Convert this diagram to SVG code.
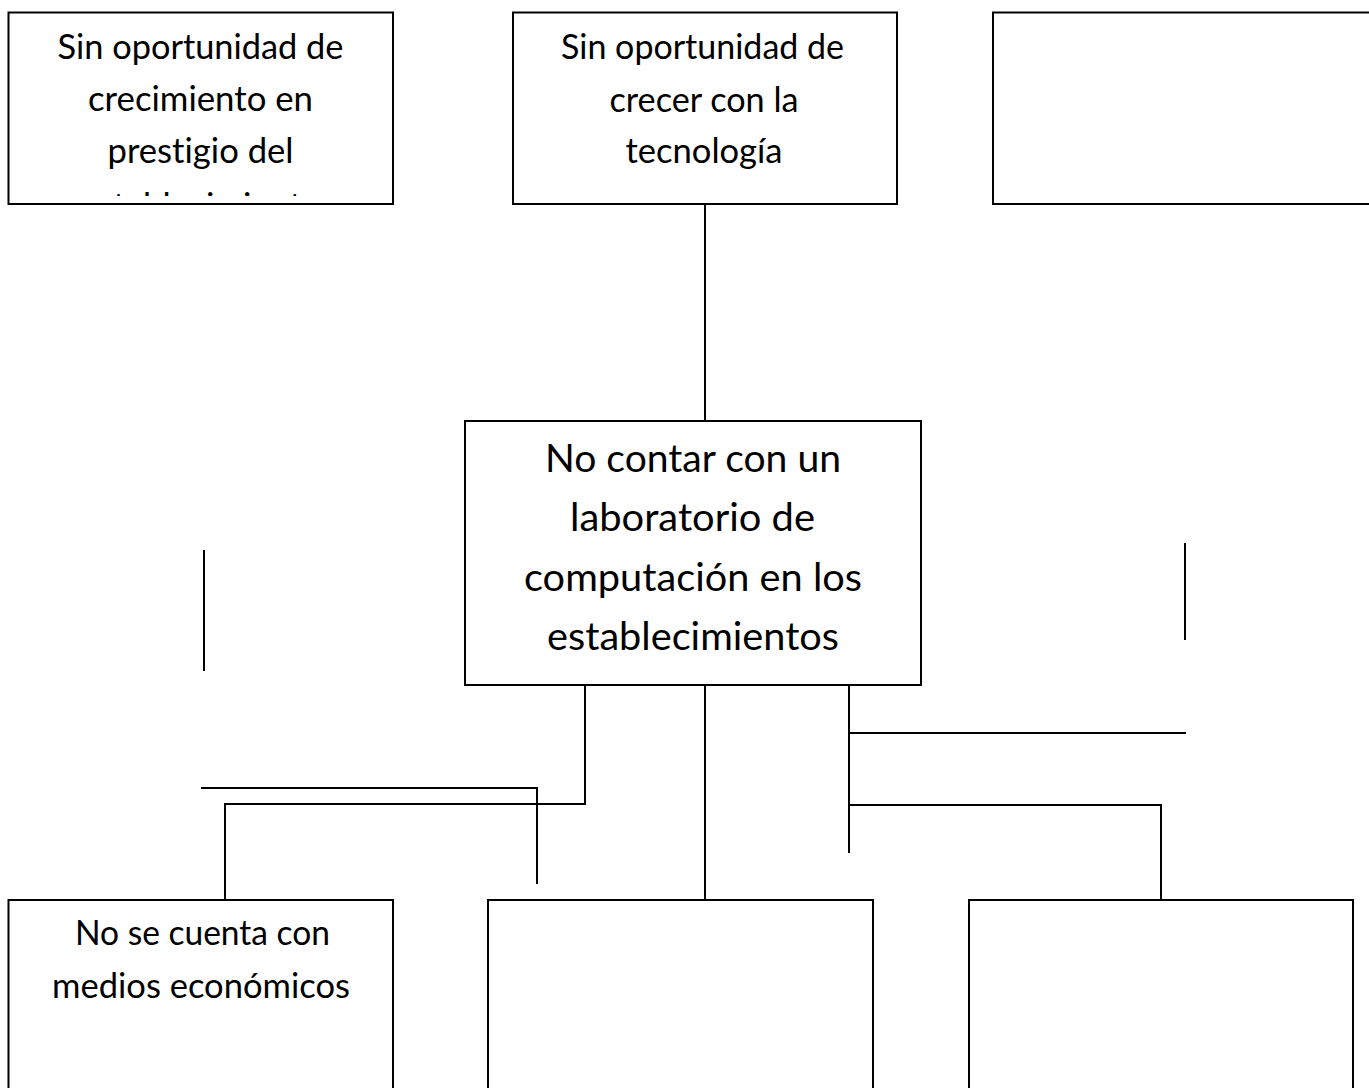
<svg xmlns="http://www.w3.org/2000/svg" width="1369" height="1088" viewBox="0 0 1369 1088">
<style>
.box{fill:#fff;stroke:#000;stroke-width:2}
.ln{fill:none;stroke:#000;stroke-width:2}
.t{font-family:Lato,"Open Sans","Liberation Sans",sans-serif;fill:#000;text-anchor:middle;font-variant-ligatures:none;font-feature-settings:"liga" 0}
.s{font-size:34px}
.l{font-size:39px}
</style>
<defs>
<clipPath id="clipTL"><rect x="9" y="13" width="383" height="183"/></clipPath>
</defs>
<rect width="1369" height="1088" fill="#fff"/>
<g id="connectors">
<line class="ln" x1="705" y1="204" x2="705" y2="421"/>
<path class="ln" d="M585 685 V804 H225 V900"/>
<line class="ln" x1="705" y1="685" x2="705" y2="900"/>
<line class="ln" x1="849" y1="685" x2="849" y2="853"/>
<line class="ln" x1="849" y1="733" x2="1186" y2="733"/>
<path class="ln" d="M849 805 H1161 V900"/>
<path class="ln" d="M201 788 H537 V884"/>
<line class="ln" x1="204" y1="550" x2="204" y2="671"/>
<line class="ln" x1="1185" y1="543" x2="1185" y2="640"/>
</g>
<g id="node-top-left">
<rect class="box" x="8.5" y="12.5" width="384.5" height="191.5"/>
<g clip-path="url(#clipTL)">
<text class="t s" x="200.5" y="59.3" textLength="286" lengthAdjust="spacingAndGlyphs">Sin oportunidad de</text>
<text class="t s" x="200.5" y="111" textLength="225" lengthAdjust="spacingAndGlyphs">crecimiento en</text>
<text class="t s" x="200.5" y="163" textLength="186" lengthAdjust="spacingAndGlyphs">prestigio del</text>
<text class="t s" x="200.5" y="218" textLength="242" lengthAdjust="spacingAndGlyphs">establecimiento</text>
</g>
</g>
<g id="node-top-middle">
<rect class="box" x="513" y="12.5" width="384" height="191.5"/>
<text class="t s" x="702.5" y="59.3" textLength="283" lengthAdjust="spacingAndGlyphs">Sin oportunidad de</text>
<text class="t s" x="704" y="111.5" textLength="189" lengthAdjust="spacingAndGlyphs">crecer con la</text>
<text class="t s" x="704" y="163.3" textLength="157" lengthAdjust="spacingAndGlyphs">tecnología</text>
</g>
<g id="node-top-right">
<rect class="box" x="993" y="12.5" width="390" height="191.5"/>
</g>
<g id="node-center">
<rect class="box" x="465" y="421" width="456" height="264"/>
<text class="t l" x="693" y="471.5" textLength="296" lengthAdjust="spacingAndGlyphs">No contar con un</text>
<text class="t l" x="692.5" y="531" textLength="245" lengthAdjust="spacingAndGlyphs">laboratorio de</text>
<text class="t l" x="693" y="590.5" textLength="338" lengthAdjust="spacingAndGlyphs">computación en los</text>
<text class="t l" x="693" y="650" textLength="292" lengthAdjust="spacingAndGlyphs">establecimientos</text>
</g>
<g id="node-bottom-left">
<rect class="box" x="8.5" y="900" width="384.5" height="200"/>
<text class="t s" x="202.5" y="945" textLength="255" lengthAdjust="spacingAndGlyphs">No se cuenta con</text>
<text class="t s" x="201" y="998" textLength="298" lengthAdjust="spacingAndGlyphs">medios económicos</text>
</g>
<g id="node-bottom-middle">
<rect class="box" x="488" y="900" width="385" height="200"/>
</g>
<g id="node-bottom-right">
<rect class="box" x="969" y="900" width="384" height="200"/>
</g>
</svg>
